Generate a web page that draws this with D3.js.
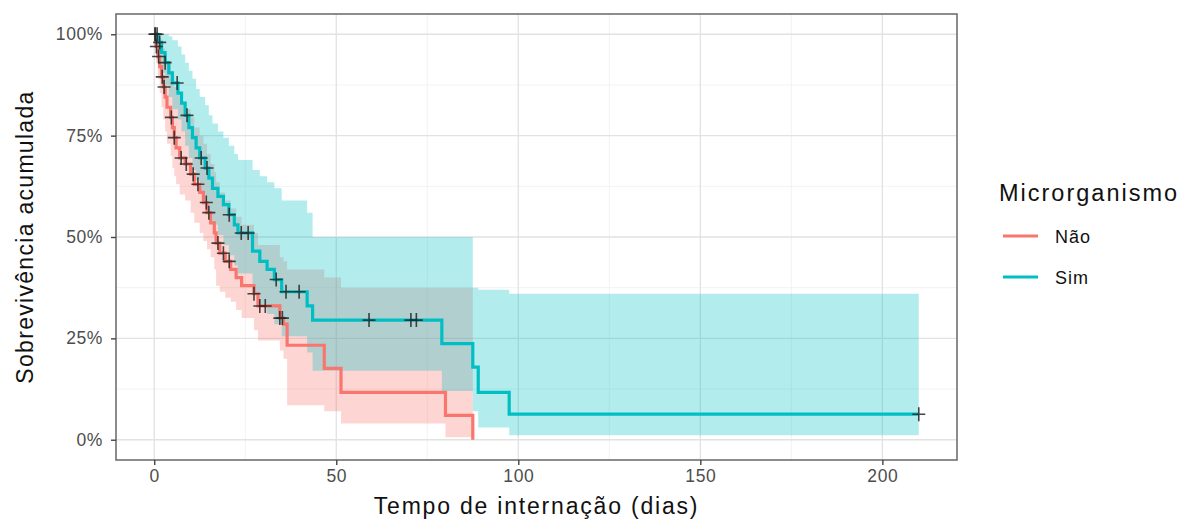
<!DOCTYPE html>
<html><head><meta charset="utf-8">
<script src="https://cdn.jsdelivr.net/npm/d3@7"></script>
<style>body{margin:0;background:#fff}svg{display:block;font-family:"Liberation Sans",Arial,sans-serif}</style>
</head><body><svg id="c" width="1182" height="520"></svg>
<script>
// Não (red)
const naoTime  = [0,0.5,1,1.5,2,2.5,3,3.5,4.5,5,5.5,6,7,8.5,10,11,12.5,13.5,14.5,15.5,16.5,17,18,19.5,21,22.5,24,27.4,28.5,34.5,35.5,36.5,46.7,51.3,80,87.5];
const naoSurv  = [1,0.97,0.945,0.92,0.895,0.87,0.845,0.82,0.795,0.77,0.745,0.72,0.695,0.68,0.655,0.63,0.61,0.585,0.56,0.535,0.51,0.485,0.46,0.44,0.42,0.40,0.38,0.36,0.33,0.30,0.285,0.233,0.176,0.117,0.06,0];
const naoUpper = [1,1,1,0.99,0.98,0.965,0.95,0.93,0.91,0.89,0.87,0.85,0.83,0.815,0.795,0.77,0.75,0.73,0.705,0.68,0.66,0.635,0.61,0.59,0.57,0.55,0.53,0.51,0.48,0.45,0.44,0.42,0.40,0.375,0.375,0.375];
const naoLower = [1,0.93,0.89,0.855,0.82,0.79,0.76,0.73,0.70,0.67,0.65,0.63,0.605,0.59,0.56,0.535,0.51,0.49,0.47,0.45,0.42,0.38,0.365,0.35,0.34,0.32,0.30,0.27,0.245,0.22,0.20,0.085,0.07,0.04,0.006,0.006];
const naoCensor = [0.2,0.6,1.2,2.2,2.7,4.7,5.5,7.4,8.8,10.7,12,14.3,15,17.5,19,20.6,27.4,29,30.5,34.5,35.2];
// Sim (cyan)
const simTime  = [0,1,2,3,4,5,6.5,7.5,8.5,9.5,10.5,11.5,12.5,14,15,16,17.5,19,20.5,22,23,27,29,31,33,35,42,43.5,79,87.5,89,97.5,210];
const simSurv  = [1,0.98,0.955,0.93,0.905,0.88,0.855,0.83,0.80,0.77,0.745,0.72,0.695,0.67,0.645,0.62,0.60,0.58,0.555,0.53,0.51,0.465,0.44,0.42,0.395,0.365,0.33,0.295,0.237,0.179,0.117,0.063,0.063];
const simUpper = [1,1,1,1,0.995,0.985,0.97,0.95,0.93,0.91,0.89,0.865,0.845,0.825,0.80,0.78,0.76,0.745,0.725,0.705,0.69,0.665,0.65,0.635,0.62,0.59,0.56,0.50,0.50,0.375,0.37,0.36,0.36];
const simLower = [1,0.94,0.905,0.875,0.845,0.815,0.79,0.76,0.725,0.695,0.665,0.64,0.61,0.585,0.555,0.53,0.505,0.48,0.455,0.43,0.41,0.36,0.335,0.31,0.285,0.255,0.215,0.17,0.12,0.07,0.03,0.011,0.011];
const simCensor = [0.3,0.8,1.5,3,6.3,9,12.9,14.5,20.6,23.9,25.8,33.5,36.2,39.8,59,70.5,72,210];

const xTicks = [0,50,100,150,200];
const yTicks = [0,0.25,0.5,0.75,1];
const yTickLabels = ["0%","25%","50%","75%","100%"];
const groups = ["Não","Sim"];
const colors = ["#F8766D","#00BFC4"];

const svg = d3.select("#c");
const L=116, R=957, T=14, B=460;
const x = d3.scaleLinear().domain([-10.5,220.5]).range([L,R]);
const y = d3.scaleLinear().domain([-0.05,1.05]).range([B,T]);

// grid
const g = svg.append("g");
const xMinor = [25,75,125,175];
const yMinor = [0.125,0.375,0.625,0.875];
g.selectAll(".xm").data(xMinor).enter().append("line").attr("x1",d=>x(d)).attr("x2",d=>x(d)).attr("y1",T).attr("y2",B).attr("stroke","#f0f0f0").attr("stroke-width",0.9);
g.selectAll(".ym").data(yMinor).enter().append("line").attr("y1",d=>y(d)).attr("y2",d=>y(d)).attr("x1",L).attr("x2",R).attr("stroke","#f0f0f0").attr("stroke-width",0.9);
g.selectAll(".xM").data(xTicks).enter().append("line").attr("x1",d=>x(d)).attr("x2",d=>x(d)).attr("y1",T).attr("y2",B).attr("stroke","#e2e2e2").attr("stroke-width",1.3);
g.selectAll(".yM").data(yTicks).enter().append("line").attr("y1",d=>y(d)).attr("y2",d=>y(d)).attr("x1",L).attr("x2",R).attr("stroke","#e2e2e2").attr("stroke-width",1.3);

const data = [
  {name:groups[0], color:colors[0], t:naoTime, s:naoSurv, up:naoUpper, lo:naoLower, cens:naoCensor},
  {name:groups[1], color:colors[1], t:simTime, s:simSurv, up:simUpper, lo:simLower, cens:simCensor}
];
const area = d3.area().curve(d3.curveStepAfter).x(d=>x(d.t)).y0(d=>y(d.lo)).y1(d=>y(d.up));
const line = d3.line().curve(d3.curveStepAfter).x(d=>x(d.t)).y(d=>y(d.s));
const pts = gr => gr.t.map((t,i)=>({t, s:gr.s[i], up:gr.up[i], lo:gr.lo[i]}));
function survAt(gr,t){let v=1;for(let i=0;i<gr.t.length;i++){if(gr.t[i]<=t)v=gr.s[i];}return v;}

data.forEach(gr=>{
  svg.append("path").datum(pts(gr)).attr("d",area).attr("fill",gr.color).attr("fill-opacity",0.3);
});
data.forEach(gr=>{
  svg.append("path").datum(pts(gr)).attr("d",line).attr("fill","none").attr("stroke",gr.color).attr("stroke-width",3.2);
});
data.forEach(gr=>{
  const cg = svg.append("g");
  gr.cens.forEach(t=>{
    const cx=x(t), cy=y(survAt(gr,t));
    cg.append("path").attr("d",`M${cx-6.5},${cy}H${cx+6.5}M${cx},${cy-7}V${cy+7}`).attr("stroke","#262626").attr("stroke-width",1.6).attr("stroke-opacity",0.85);
  });
});

// border
svg.append("rect").attr("x",L).attr("y",T).attr("width",R-L).attr("height",B-T).attr("fill","none").attr("stroke","#707070").attr("stroke-width",1.6);

// axes
const xa = svg.append("g").attr("transform",`translate(0,${B})`).call(d3.axisBottom(x).tickValues(xTicks).tickSize(5).tickPadding(5).tickFormat(d3.format("d")));
const ya = svg.append("g").attr("transform",`translate(${L},0)`).call(d3.axisLeft(y).tickValues(yTicks).tickSize(5).tickPadding(8).tickFormat((d,i)=>yTickLabels[i]));
[xa,ya].forEach(a=>{a.select(".domain").remove();a.selectAll("line").attr("stroke","#444").attr("stroke-width",1.4);a.selectAll("text").attr("fill","#4d4d4d").attr("font-size",17.5).attr("letter-spacing","0.6px").attr("font-family","Liberation Sans, Arial, sans-serif");});

svg.append("text").attr("x",(L+R)/2).attr("y",514).attr("text-anchor","middle").attr("font-size",23).attr("letter-spacing","1.8px").attr("fill","#111").text("Tempo de internação (dias)");
svg.append("text").attr("transform",`translate(33,${(T+B)/2}) rotate(-90)`).attr("text-anchor","middle").attr("font-size",23).attr("letter-spacing","1.3px").attr("fill","#111").text("Sobrevivência acumulada");

// legend
svg.append("text").attr("x",999).attr("y",201).attr("font-size",23.5).attr("letter-spacing","2px").attr("fill","#111").text("Microrganismo");
groups.forEach((gname,i)=>{
  const ly = 236 + i*41;
  svg.append("line").attr("x1",1003).attr("x2",1038).attr("y1",ly).attr("y2",ly).attr("stroke",colors[i]).attr("stroke-width",3.2);
  svg.append("text").attr("x",1055).attr("y",ly+7).attr("font-size",18).attr("letter-spacing","1px").attr("fill","#111").text(gname);
});
</script></body></html>
